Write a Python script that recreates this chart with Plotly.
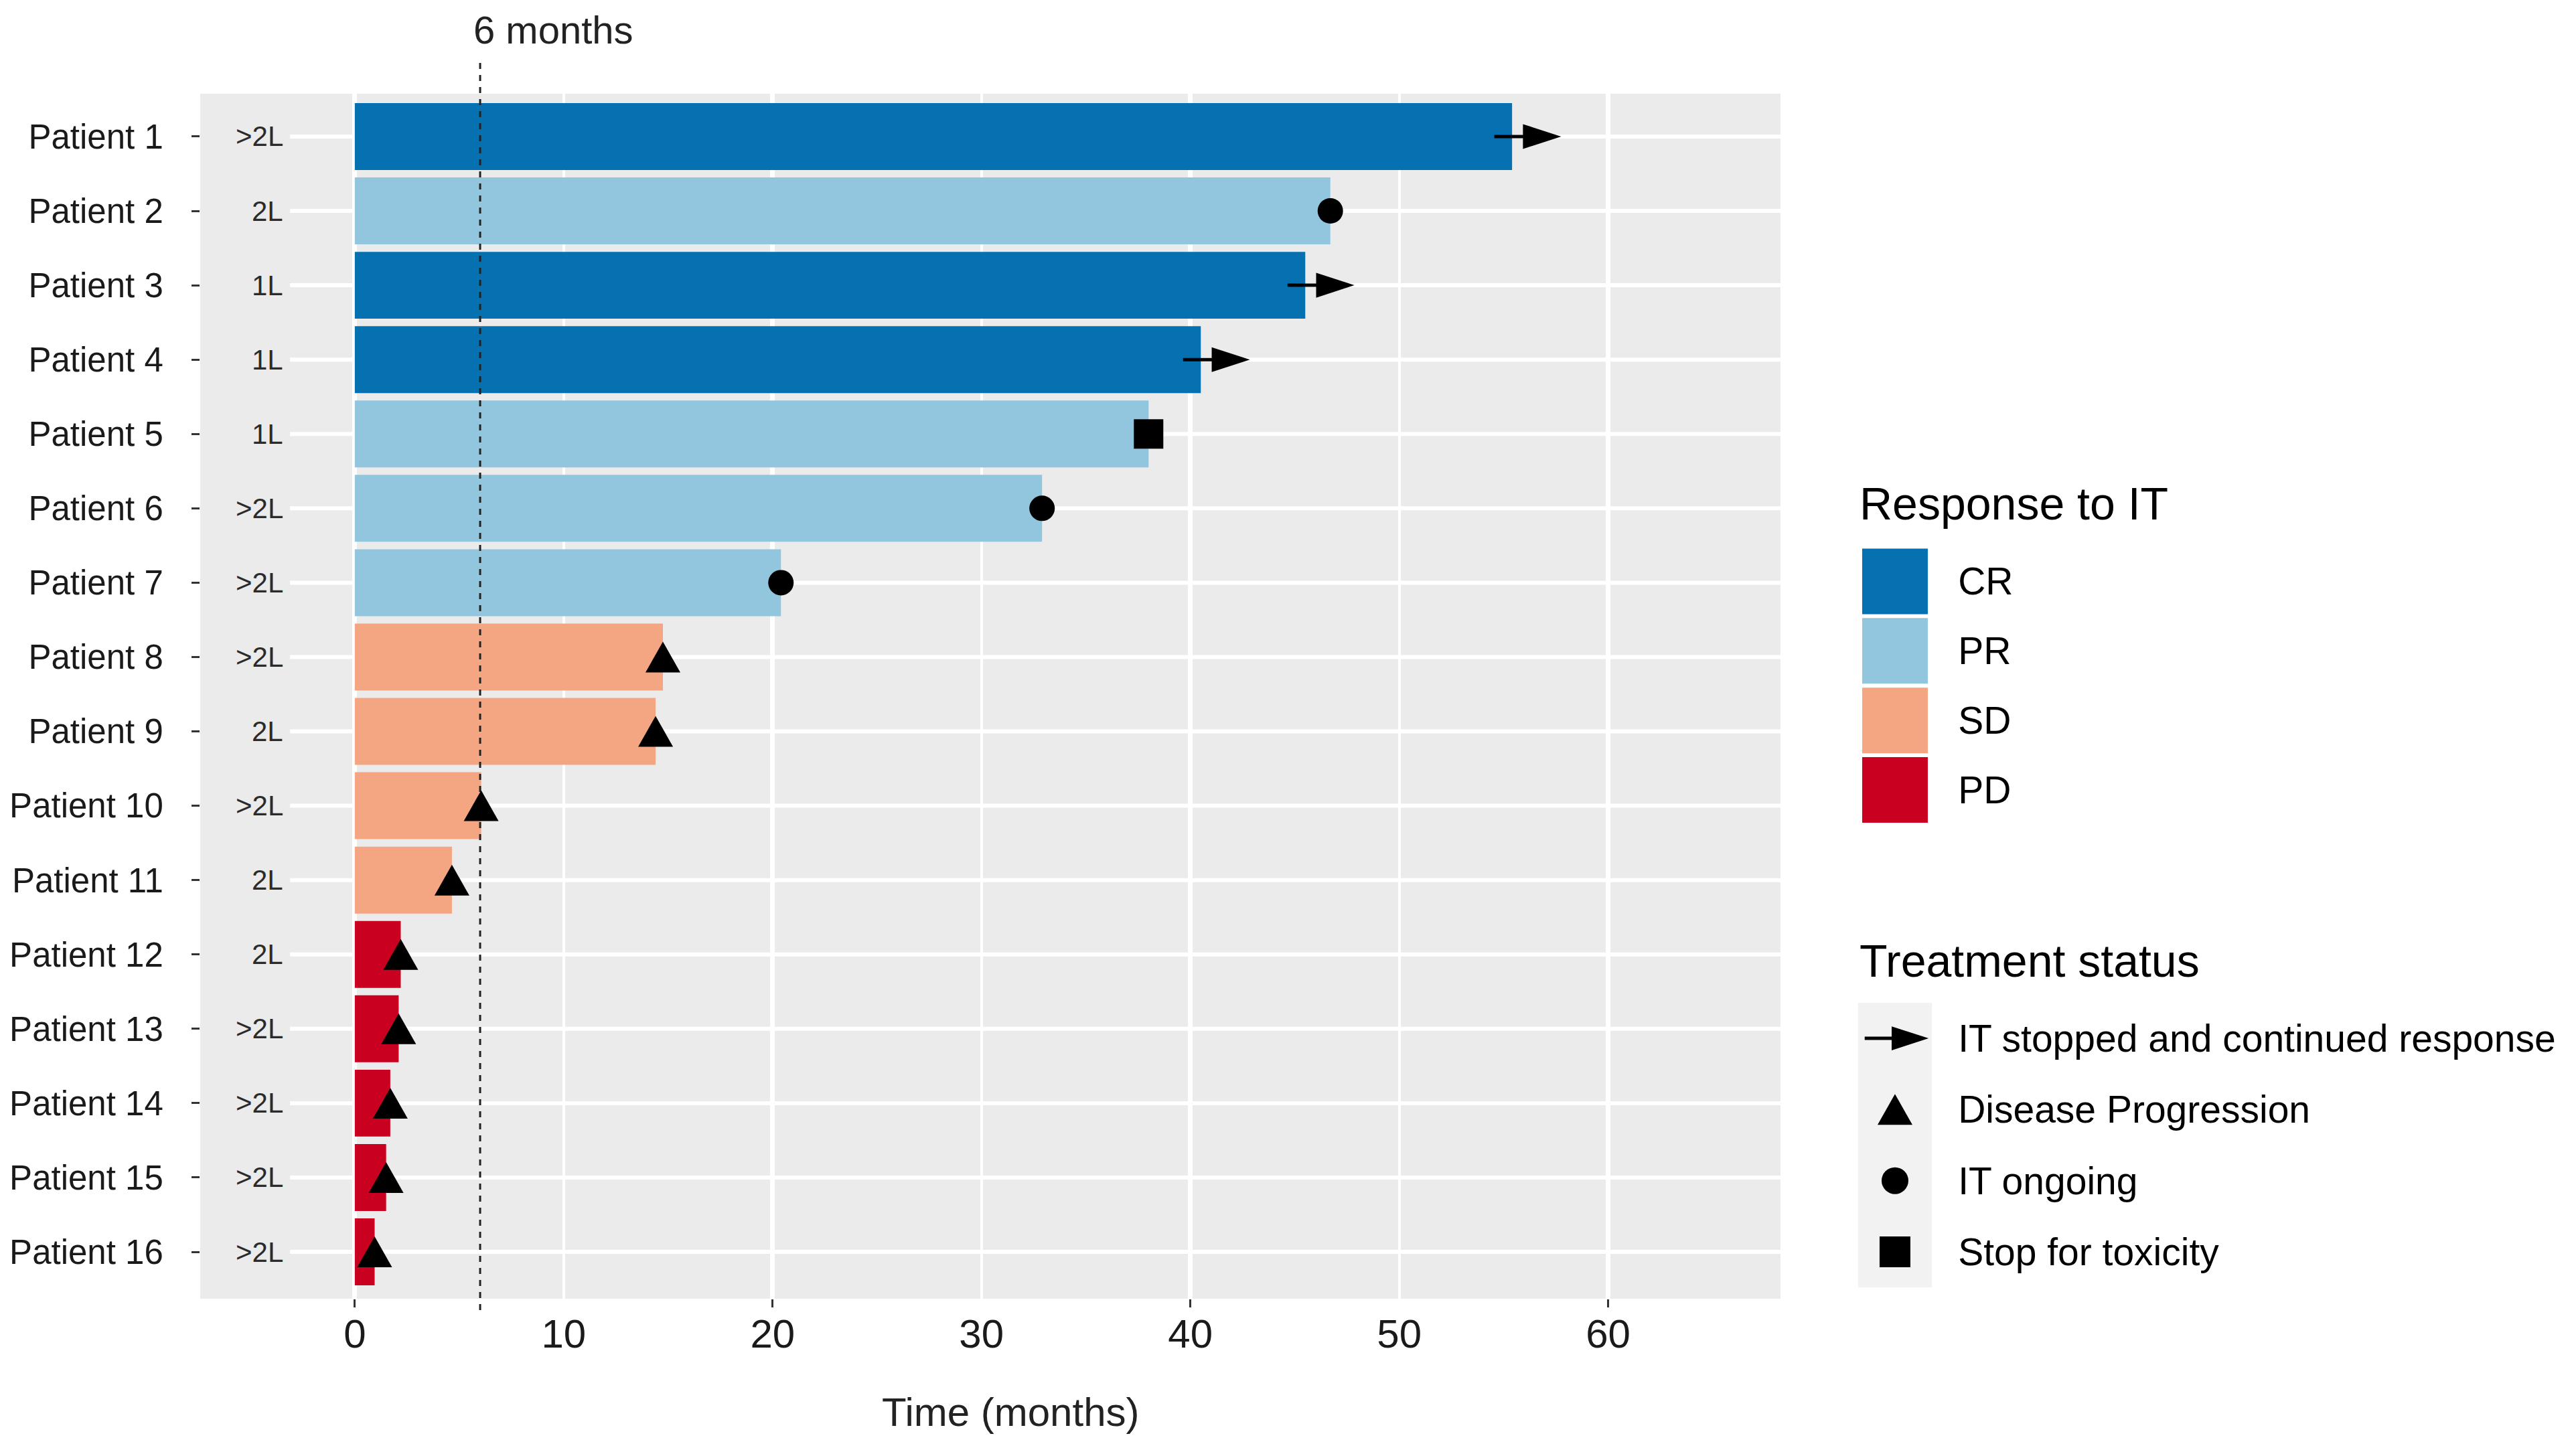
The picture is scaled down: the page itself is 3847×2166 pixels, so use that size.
import plotly.graph_objects as go

# ---------------- data ----------------
patients = ["Patient 1", "Patient 2", "Patient 3", "Patient 4", "Patient 5", "Patient 6",
            "Patient 7", "Patient 8", "Patient 9", "Patient 10", "Patient 11", "Patient 12",
            "Patient 13", "Patient 14", "Patient 15", "Patient 16"]
months = [55.4, 46.7, 45.5, 40.5, 38.0, 32.9, 20.4, 14.75, 14.4, 6.05, 4.65,
          2.2, 2.1, 1.7, 1.5, 0.95]
response = ["CR", "PR", "CR", "CR", "PR", "PR", "PR", "SD", "SD", "SD", "SD",
            "PD", "PD", "PD", "PD", "PD"]
status = ["IT stopped and continued response", "IT ongoing", "IT stopped and continued response",
          "IT stopped and continued response", "Stop for toxicity", "IT ongoing", "IT ongoing",
          "Disease Progression", "Disease Progression", "Disease Progression", "Disease Progression",
          "Disease Progression", "Disease Progression", "Disease Progression", "Disease Progression",
          "Disease Progression"]
line_of_therapy = [">2L", "2L", "1L", "1L", "1L", ">2L", ">2L", ">2L", "2L", ">2L", "2L",
                   "2L", ">2L", ">2L", ">2L", ">2L"]

response_order = ["CR", "PR", "SD", "PD"]
status_order = ["IT stopped and continued response", "Disease Progression",
                "IT ongoing", "Stop for toxicity"]
x_tick_values = [0, 10, 20, 30, 40, 50, 60]
x_major_ticks = [0, 20, 40, 60]
six_months = 6

# ---------------- styles ----------------
RESP_COLORS = {"CR": "#0571B0", "PR": "#92C5DE", "SD": "#F4A582", "PD": "#CA0020"}
STATUS_SYMBOL = {"IT ongoing": ("circle", 38),
                 "Stop for toxicity": ("square", 44)}
TRIANGLE_PATH = "M-26,-23 L26,-23 L0,23 Z"   # pixel-sized equilateral-ish triangle
FONT = "Liberation Sans, Arial, sans-serif"
PANEL = "#EBEBEB"
X_RANGE = [-7.4, 68.25]
Y_RANGE = [15.63, -0.576]
MAIN_DOMAIN = [0, 0.66516]
LEG_X_DOMAIN = [0.6978, 0.7289]
ROW_GRID_START = -3.1

fig = go.Figure()

# bars
for r in response_order:
    idx = [i for i, v in enumerate(response) if v == r]
    fig.add_trace(go.Bar(
        orientation="h",
        y=[patients[i] for i in idx],
        x=[months[i] for i in idx],
        base=0, width=0.9,
        marker=dict(color=RESP_COLORS[r], line=dict(width=0)),
        name=r, showlegend=False, hoverinfo="skip"))

# status markers (circle / square)
for st, (sym, size) in STATUS_SYMBOL.items():
    idx = [i for i, v in enumerate(status) if v == st]
    fig.add_trace(go.Scatter(
        x=[months[i] for i in idx], y=[patients[i] for i in idx],
        mode="markers", cliponaxis=False,
        marker=dict(symbol=sym, size=size, color="black", line=dict(width=0)),
        name=st, showlegend=False, hoverinfo="skip"))

# arrows (IT stopped and continued response)
arrow_idx = [i for i, v in enumerate(status) if v == status_order[0]]
ax_x, ax_y = [], []
for i in arrow_idx:
    ax_x += [months[i] - 0.85, months[i] + 1.4, None]
    ax_y += [patients[i], patients[i], None]
fig.add_trace(go.Scatter(x=ax_x, y=ax_y, mode="lines", line=dict(color="black", width=5),
                         showlegend=False, hoverinfo="skip", cliponaxis=False))
fig.add_trace(go.Scatter(
    x=[months[i] + 2.35 for i in arrow_idx], y=[patients[i] for i in arrow_idx],
    mode="markers", cliponaxis=False,
    marker=dict(symbol="arrow", angle=90, size=60, color="black", line=dict(width=0)),
    showlegend=False, hoverinfo="skip"))

# ---------------- legend: Response to IT (x4/y4) ----------------
fig.add_trace(go.Scatter(
    x=[0.5] * len(response_order), y=response_order, xaxis="x4", yaxis="y4",
    mode="markers", cliponaxis=False,
    marker=dict(symbol="square", size=98, color=[RESP_COLORS[r] for r in response_order],
                line=dict(width=0)),
    showlegend=False, hoverinfo="skip"))

# ---------------- legend: Treatment status (x3/y3) ----------------
fig.add_trace(go.Scatter(x=[0.09, 0.6], y=[status_order[0]] * 2, xaxis="x3", yaxis="y3",
                         mode="lines", line=dict(color="black", width=5),
                         showlegend=False, hoverinfo="skip", cliponaxis=False))
fig.add_trace(go.Scatter(x=[0.955], y=[status_order[0]], xaxis="x3", yaxis="y3",
                         mode="markers", cliponaxis=False,
                         marker=dict(symbol="arrow", angle=90, size=58, color="black"),
                         showlegend=False, hoverinfo="skip"))
for st, (sym, size) in STATUS_SYMBOL.items():
    fig.add_trace(go.Scatter(x=[0.5], y=[st], xaxis="x3", yaxis="y3", mode="markers",
                             cliponaxis=False,
                             marker=dict(symbol=sym, size=size + 2, color="black"),
                             showlegend=False, hoverinfo="skip"))

# ---------------- shapes ----------------
shapes = [
    dict(type="rect", xref="x domain", yref="y domain", x0=0, x1=1, y0=0, y1=1,
         fillcolor=PANEL, line=dict(width=0), layer="below"),
    dict(type="rect", xref="x3 domain", yref="y3 domain", x0=0, x1=1, y0=0, y1=1,
         fillcolor="#F2F2F2", line=dict(width=0), layer="below"),
]
# row grid lines (start right of the line-of-therapy labels)
for p in patients:
    shapes.append(dict(type="line", xref="x", yref="y", x0=ROW_GRID_START, x1=X_RANGE[1],
                       y0=p, y1=p, line=dict(color="white", width=6), layer="below"))
shapes.append(dict(type="line", xref="x", yref="paper", x0=six_months, x1=six_months,
                   y0=-0.0094, y1=1.0306, line=dict(color="#222222", width=3, dash="dash"),
                   layer="above"))
# disease-progression triangles, anchored at the data points
for i, st in enumerate(status):
    if st == "Disease Progression":
        shapes.append(dict(type="path", xref="x", yref="y", xsizemode="pixel",
                           ysizemode="pixel", xanchor=months[i], yanchor=patients[i],
                           path=TRIANGLE_PATH, fillcolor="black", line=dict(width=0),
                           layer="above"))
shapes.append(dict(type="path", xref="x3", yref="y3", xsizemode="pixel", ysizemode="pixel",
                   xanchor=0.5, yanchor="Disease Progression", path=TRIANGLE_PATH,
                   fillcolor="black", line=dict(width=0), layer="above"))

# ---------------- annotations ----------------
annotations = []
for p, lt in zip(patients, line_of_therapy):
    annotations.append(dict(xref="x", yref="y", x=-3.35, y=p, text=lt, showarrow=False,
                            xanchor="right", yanchor="middle",
                            font=dict(family=FONT, size=42, color="#2b2b2b")))
annotations += [
    dict(xref="x", yref="paper", x=six_months, y=1.0533, xshift=-12, text="6 months",
         showarrow=False, xanchor="left", yanchor="middle",
         font=dict(family=FONT, size=58, color="#222222")),
    dict(xref="paper", yref="paper", x=0.3413, y=-0.0944, text="Time (months)",
         showarrow=False, xanchor="center", yanchor="middle",
         font=dict(family=FONT, size=60, color="#222222")),
    dict(xref="paper", yref="paper", x=0.6979, y=0.66, text="Response to IT",
         showarrow=False, xanchor="left", yanchor="middle",
         font=dict(family=FONT, size=68, color="black")),
    dict(xref="paper", yref="paper", x=0.6979, y=0.2806, text="Treatment status",
         showarrow=False, xanchor="left", yanchor="middle",
         font=dict(family=FONT, size=68, color="black")),
]

fig.update_layout(
    template="none",
    width=3847, height=2166,
    margin=dict(l=299, r=0, t=140, b=226, pad=0),
    paper_bgcolor="white", plot_bgcolor="white",
    showlegend=False, barmode="overlay",
    font=dict(family=FONT, color="#222222"),
    shapes=shapes, annotations=annotations,
    xaxis=dict(domain=MAIN_DOMAIN, anchor="y", range=X_RANGE, autorange=False,
               tickmode="array", tickvals=x_tick_values,
               ticktext=[str(v) for v in x_tick_values],
               ticks="", showgrid=True, gridcolor="white", gridwidth=4,
               zeroline=False, showline=False, automargin=False,
               ticklabelstandoff=12,
               tickfont=dict(family=FONT, size=60, color="#1a1a1a"),
               minor=dict(tickmode="array", tickvals=x_major_ticks, ticks="outside",
                          ticklen=12, tickwidth=3, tickcolor="#333333",
                          showgrid=True, gridcolor="white", gridwidth=7)),
    yaxis=dict(domain=[0, 1], anchor="x", type="category", categoryorder="array",
               categoryarray=patients, range=Y_RANGE, autorange=False,
               ticks="outside", ticklen=12, tickwidth=3, tickcolor="#333333",
               showgrid=False, zeroline=False, showline=False, automargin=False,
               ticklabelstandoff=32,
               tickfont=dict(family=FONT, size=51, color="#1a1a1a")),
    xaxis3=dict(domain=LEG_X_DOMAIN, anchor="y3", range=[0, 1], visible=False),
    yaxis3=dict(domain=[0.0094, 0.2456], anchor="x3", side="right", type="category",
                categoryorder="array", categoryarray=status_order, range=[3.5, -0.5],
                ticks="", showgrid=False, zeroline=False, showline=False,
                automargin=False, ticklabelstandoff=38,
                tickfont=dict(family=FONT, size=57, color="black")),
    xaxis4=dict(domain=LEG_X_DOMAIN, anchor="y4", range=[0, 1], visible=False),
    yaxis4=dict(domain=[0.3933, 0.6242], anchor="x4", side="right", type="category",
                categoryorder="array", categoryarray=response_order, range=[3.5, -0.5],
                ticks="", showgrid=False, zeroline=False, showline=False,
                automargin=False, ticklabelstandoff=38,
                tickfont=dict(family=FONT, size=57, color="black")),
)

fig.write_html("out.html", config={"displayModeBar": False},
               post_script="document.body.style.margin='0px';")
